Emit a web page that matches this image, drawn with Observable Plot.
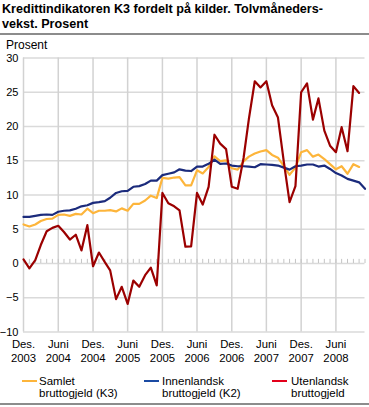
<!DOCTYPE html>
<html><head><meta charset="utf-8">
<script src="https://cdn.jsdelivr.net/npm/d3@7"></script>
<script src="https://cdn.jsdelivr.net/npm/@observablehq/plot@0.6"></script>
<style>
body{margin:0;font-family:"Liberation Sans",Arial,sans-serif;background:#fff;}
#wrap{position:relative;width:369px;height:407px;overflow:hidden;background:#fff;}
#title{position:absolute;left:2px;top:1.5px;font-size:12.6px;line-height:15px;font-weight:bold;color:#000;white-space:nowrap;}
.rule{position:absolute;left:0;width:369px;height:1.5px;background:#8c8c8c;}
#ylab{position:absolute;left:6px;top:39.3px;font-size:12px;line-height:12px;color:#000;}
#chart{position:absolute;left:0;top:52px;}
.sw{position:absolute;width:15px;height:2px;}
.lt{position:absolute;font-size:11.5px;line-height:12px;color:#000;white-space:nowrap;}
</style></head><body>
<div id="wrap">
<div id="title">Kredittindikatoren K3 fordelt på kilder. Tolvmåneders-<br>vekst. Prosent</div>
<div class="rule" style="top:33px"></div>
<div id="ylab">Prosent</div>
<div id="chart"></div>
<div id="legend"></div>
<div class="rule" style="top:403px"></div>
</div>
<script>
// First month: December 2003 (monthly observations)
const startYear = 2003, startMonthIndex = 11;

const samlet = [5.7, 5.4, 5.7, 6.2, 6.5, 6.55, 7.1, 7.15, 6.95, 7.25, 7.15, 8.0,
  7.35, 7.7, 7.7, 7.8, 7.6, 8.05, 7.7, 8.7, 8.7, 9.2, 9.9, 9.55,
  12.5, 12.4, 12.55, 12.6, 11.4, 11.4, 13.6, 13.15, 14.1, 15.65, 14.95, 15.05,
  13.9, 13.7, 14.9, 15.6, 16.05, 16.35, 16.55, 15.85, 15.45, 14.2, 12.95, 14.0,
  16.25, 16.55, 15.6, 15.9, 15.25, 14.5, 13.75, 14.2, 13.1, 14.5, 14.1];

const innenlandsk = [6.8, 6.8, 6.95, 7.1, 7.15, 7.1, 7.55, 7.7, 7.75, 8.0, 8.35, 8.5,
  8.85, 8.95, 9.1, 9.6, 10.3, 10.55, 10.6, 11.2, 11.3, 11.6, 12.1, 12.1,
  12.9, 13.1, 13.3, 13.75, 13.55, 13.5, 14.15, 14.15, 14.55, 15.15, 14.55, 14.6,
  14.3, 14.2, 14.2, 14.15, 14.05, 14.5, 14.45, 14.4, 14.3, 14.0, 13.7, 14.2,
  14.3, 14.45, 14.45, 14.15, 14.3, 13.8, 13.2, 12.85, 12.35, 12.1, 11.85, 10.9];

const utenlandsk = [0.6, -0.7, 0.5, 2.7, 4.7, 5.2, 5.5, 4.6, 3.5, 4.2, 1.9, 5.6,
  -0.4, 1.6, 0.2, -1.0, -5.2, -3.4, -5.9, -2.5, -3.4, -1.7, -0.6, -3.2,
  10.3, 8.8, 8.35, 7.75, 2.45, 2.5, 10.3, 8.6, 11.2, 18.8, 17.5, 16.7,
  11.2, 10.9, 15.4, 21.1, 26.6, 25.7, 26.6, 23.1, 21.3, 14.8, 8.95, 11.3,
  25.0, 26.3, 21.0, 24.1, 19.4, 17.2, 16.25, 19.9, 16.4, 25.9, 24.9];

const seriesNames = ["Samlet bruttogjeld (K3)", "Innenlandsk bruttogjeld (K2)", "Utenlandsk bruttogjeld"];
const legendLines = [["Samlet", "bruttogjeld (K3)"], ["Innenlandsk", "bruttogjeld (K2)"], ["Utenlandsk", "bruttogjeld"]];
const seriesColors = ["#fdb53b", "#1b2b7c", "#9b0000"];
const legendColors = ["#fdb53b", "#1a4aa3", "#e3001b"];

const yTicks = [-10, -5, 0, 5, 10, 15, 20, 25, 30];
const xTickMonthOffsets = [0, 6, 12, 18, 24, 30, 36, 42, 48, 54];
const xTickLabels = ["Des.\n2003", "Juni\n2004", "Des.\n2004", "Juni\n2005", "Des.\n2005",
  "Juni\n2006", "Des.\n2006", "Juni\n2007", "Des.\n2007", "Juni\n2008"];

const monthDate = i => new Date(Date.UTC(startYear, startMonthIndex + i, 1));
const nMonths = Math.max(samlet.length, innenlandsk.length, utenlandsk.length);
const allMonths = d3.range(nMonths).map(monthDate);
const xTickDates = xTickMonthOffsets.map(monthDate);
const labelMap = new Map(xTickDates.map((d, k) => [+d, xTickLabels[k]]));

const rows = [];
[samlet, innenlandsk, utenlandsk].forEach((vals, s) => {
  vals.forEach((v, i) => rows.push({date: monthDate(i), value: v, series: seriesNames[s]}));
});

const chart = Plot.plot({
  width: 369,
  height: 314,
  marginLeft: 23,
  marginRight: 4.5,
  marginTop: 5.5,
  marginBottom: 34.5,
  style: {fontFamily: "'Liberation Sans', Arial, sans-serif", fontSize: "11px", color: "#000", background: "transparent", overflow: "visible"},
  x: {type: "utc", domain: [allMonths[0], allMonths[allMonths.length - 1]]},
  y: {domain: [-10, 30]},
  color: {domain: seriesNames, range: seriesColors},
  marks: [
    Plot.ruleY(yTicks, {stroke: "#dadada", strokeWidth: 1.5}),
    Plot.ruleX(xTickDates, {y1: -10, y2: 30, stroke: "#d2d2d2", strokeWidth: 1.5}),
    Plot.ruleX(allMonths, {y1: 0, y2: 0.6, stroke: "#c4c4c4", strokeWidth: 1}),
    Plot.axisY({ticks: yTicks, tickSize: 0, tickPadding: 5, label: null, fontSize: 11}),
    Plot.axisX({ticks: xTickDates, tickFormat: d => labelMap.get(+d) ?? "", tickSize: 0, tickPadding: 7, label: null, fontSize: 11.3, lineHeight: 1.17}),
    Plot.line(rows, {x: "date", y: "value", z: "series", stroke: "series", strokeWidth: 2.2, strokeLinejoin: "round"})
  ]
});
document.getElementById("chart").appendChild(chart);

// Legend
const legend = document.getElementById("legend");
const swX = [22, 144, 272], txtX = [39, 162, 291];
legendLines.forEach((lines, k) => {
  const sw = document.createElement("div");
  sw.className = "sw";
  sw.style.left = swX[k] + "px";
  sw.style.top = "379.5px";
  sw.style.background = legendColors[k];
  legend.appendChild(sw);
  const t = document.createElement("div");
  t.className = "lt";
  t.style.left = txtX[k] + "px";
  t.style.top = "374.7px";
  t.innerHTML = lines.join("<br>");
  legend.appendChild(t);
});
</script>
</body></html>
